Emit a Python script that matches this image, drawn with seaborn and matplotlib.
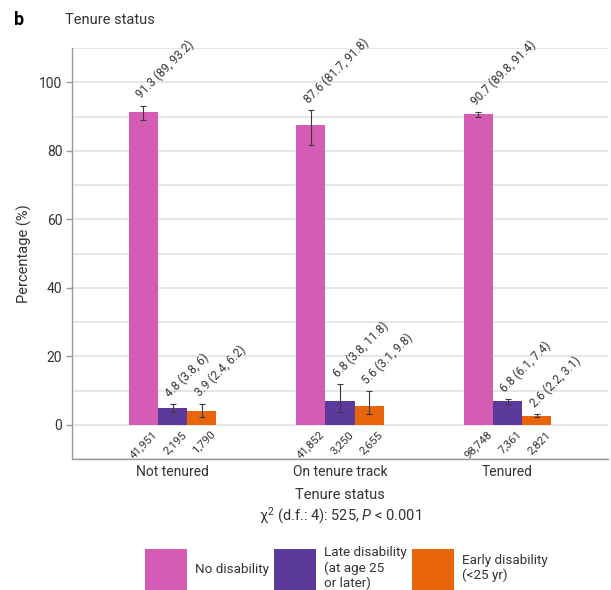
import matplotlib
matplotlib.use("Agg")
import matplotlib.pyplot as plt
from matplotlib.ticker import MultipleLocator
import seaborn as sns
import pandas as pd

# ---- data ----
groups = ["Not tenured", "On tenure track", "Tenured"]
series = ["No disability", "Late disability\n(at age 25\nor later)", "Early disability\n(<25 yr)"]
colors = ["#D45CB4", "#5C3A9B", "#E8650C"]

no_dis = [91.3, 87.6, 90.7]
no_lo = [89.0, 81.7, 89.8]
no_hi = [93.2, 91.8, 91.4]
late_dis = [4.8, 6.8, 6.8]
late_lo = [3.8, 3.8, 6.1]
late_hi = [6.0, 11.8, 7.4]
early_dis = [3.9, 5.6, 2.6]
early_lo = [2.4, 3.1, 2.2]
early_hi = [6.2, 9.8, 3.1]
n_no = [41951, 41852, 98748]
n_late = [2195, 3250, 7361]
n_early = [1790, 2655, 2821]

vals = [no_dis, late_dis, early_dis]
los = [no_lo, late_lo, early_lo]
his = [no_hi, late_hi, early_hi]
ns = [n_no, n_late, n_early]

rows = []
for s, v in zip(series, vals):
    for g, val in zip(groups, v):
        rows.append({"group": g, "series": s, "pct": val})
df = pd.DataFrame(rows)

# ---- style ----
sns.set_theme(style="white")
plt.rcParams["font.family"] = ["Roboto", "DejaVu Sans"]
plt.rcParams["mathtext.fontset"] = "custom"
plt.rcParams["mathtext.rm"] = "Roboto"
plt.rcParams["mathtext.it"] = "Roboto:italic"
plt.rcParams["mathtext.bf"] = "Roboto:bold"
txt = "#333333"

fig = plt.figure(figsize=(6.11, 5.90), dpi=100)
ax = fig.add_axes([72 / 611, 1 - 459 / 590, (608 - 72) / 611, (459 - 48) / 590])

sns.barplot(data=df, x="group", y="pct", hue="series", order=groups,
            hue_order=series, palette=colors, width=0.52, errorbar=None,
            saturation=1, linewidth=0, ax=ax)

handles, labels = ax.get_legend_handles_labels()
if ax.legend_ is not None:
    ax.legend_.remove()

bar_conts = list(ax.containers)
for i, cont in enumerate(bar_conts):
    for j, bar in enumerate(cont):
        xc = bar.get_x() + bar.get_width() / 2
        v, lo, hi = vals[i][j], los[i][j], his[i][j]
        ax.errorbar(xc, v, yerr=[[v - lo], [hi - v]], fmt="none",
                    ecolor="#3a3a3a", elinewidth=0.8, capsize=2.5,
                    capthick=0.8, zorder=4)
        ax.annotate(f"{v:g} ({lo:g}, {hi:g})", xy=(xc, hi), xytext=(0, 3),
                    textcoords="offset points", rotation=45,
                    rotation_mode="anchor", ha="left", va="bottom",
                    fontsize=8.5, color=txt)
        ax.annotate(f"{ns[i][j]:,}", xy=(xc, 0), xytext=(6, -3),
                    textcoords="offset points", rotation=45,
                    rotation_mode="anchor", ha="right", va="top",
                    fontsize=8.2, color=txt)

ax.set_xlim(-0.6, 2.6)
ax.set_ylim(-10, 110)
ax.set_yticks([0, 20, 40, 60, 80, 100])
ax.yaxis.set_minor_locator(MultipleLocator(10))
ax.set_axisbelow(True)
ax.grid(axis="y", which="both", color="#E2E2E2", linewidth=1.2)
ax.tick_params(axis="y", which="major", left=True, length=4, width=1,
               color="#999999", labelsize=10, labelcolor=txt, pad=3)
ax.tick_params(axis="y", which="minor", length=0)
ax.tick_params(axis="x", bottom=False, length=0, labelsize=10,
               labelcolor=txt, pad=4.5)
for side in ["top", "right"]:
    ax.spines[side].set_visible(False)
for side in ["left", "bottom"]:
    ax.spines[side].set_color("#9A9A9A")
    ax.spines[side].set_linewidth(1)

ax.set_ylabel("Percentage (%)", fontsize=10.5, color=txt, labelpad=5)
ax.set_xlabel("Tenure status\nχ$^2$ (d.f.: 4): 525, $P$ < 0.001",
              fontsize=10.5, color=txt, labelpad=6, linespacing=1.25)

fig.text(14 / 611, 1 - 20 / 590, "b", fontsize=13, fontweight="bold",
         va="center", ha="left", color="black")
fig.text(65 / 611, 1 - 20 / 590, "Tenure status", fontsize=10.5,
         va="center", ha="left", color=txt)

fig.legend(handles, labels, loc="upper left",
           bbox_to_anchor=(145 / 611, 1 - 546 / 590), ncol=3, frameon=False,
           fontsize=9.7, handlelength=3.1, handleheight=4.39,
           handletextpad=0.6, columnspacing=0.4, borderpad=0,
           borderaxespad=0, labelcolor=txt)

fig.savefig("out.png", dpi=100)
